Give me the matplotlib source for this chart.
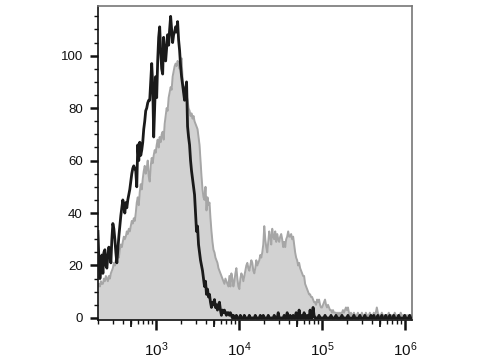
import numpy as np
import matplotlib
matplotlib.use("Agg")
import matplotlib.pyplot as plt
from matplotlib import ticker

plt.rcParams['font.family'] = ['Liberation Sans', 'DejaVu Sans']
plt.rcParams['mathtext.fontset'] = 'custom'
plt.rcParams['mathtext.rm'] = 'Liberation Sans'
plt.rcParams['mathtext.it'] = 'Liberation Sans:italic'
plt.rcParams['mathtext.bf'] = 'Liberation Sans:bold'

# histogram channel grid (log10 of fluorescence intensity)
log_start = 2.301
log_step = 0.012

# gray filled histogram (control)
gray_counts = [
    12, 13, 12, 14, 13, 13, 15, 14, 16, 15,
    14, 16, 15, 17, 18, 19, 21, 20, 22, 22,
    25, 23, 26, 28, 27, 29, 31, 30, 31, 33,
    32, 34, 33, 35, 37, 36, 38, 37, 40, 44,
    46, 43, 48, 51, 49, 53, 56, 58, 55, 57,
    60, 54, 52, 58, 61, 59, 62, 64, 63, 66,
    68, 65, 69, 67, 70, 71, 68, 74, 77, 80,
    79, 84, 86, 88, 87, 92, 94, 96, 97, 96,
    98, 97, 95, 98, 99, 91, 86, 88, 84, 85,
    83, 80, 79, 77, 78, 76, 77, 75, 74, 73,
    72, 69, 66, 60, 54, 49, 46, 45, 50, 41,
    46, 43, 44, 38, 33, 29, 26, 25, 23, 22,
    21, 19, 18, 17, 16, 15, 14, 13, 15, 14,
    13, 12, 16, 12, 17, 15, 12, 14, 17, 19,
    15, 12, 11, 15, 17, 16, 14, 16, 18, 20,
    21, 19, 18, 20, 22, 21, 18, 17, 19, 22,
    20, 21, 22, 24, 23, 25, 28, 35, 30, 27,
    25, 29, 33, 31, 28, 34, 31, 30, 33, 29,
    32, 30, 29, 31, 32, 30, 27, 29, 27, 30,
    31, 33, 31, 31, 32, 30, 31, 28, 25, 23,
    22, 20, 21, 19, 18, 17, 16, 16, 13, 12,
    11, 10, 9, 9, 8, 8, 7, 6, 6, 5,
    7, 6, 7, 5, 4, 4, 5, 6, 7, 5,
    4, 5, 4, 3, 3, 2, 3, 2, 2, 2,
    1, 2, 1, 2, 1, 2, 3, 2, 3, 4,
    3, 4, 2, 1, 2, 1, 1, 2, 1, 1,
    1, 2, 1, 1, 1, 2, 1, 1, 1, 2,
    1, 1, 1, 2, 1, 1, 1, 2, 1, 2,
    4, 2, 1, 1, 1, 2, 1, 1, 1, 1,
    1, 1, 2, 1, 1, 1, 1, 1, 2, 1,
    1, 1, 1, 1, 2, 1, 1, 1, 1, 1,
    1, 1, 1, 1, 1,
]

# black line histogram (stained sample)
black_counts = [
    33, 22, 15, 19, 24, 17, 25, 26, 20, 19,
    24, 27, 25, 21, 30, 36, 34, 30, 25, 21,
    26, 31, 35, 39, 42, 45, 43, 40, 44, 42,
    45, 47, 49, 52, 55, 57, 58, 57, 56, 50,
    66, 60, 67, 62, 64, 67, 72, 75, 79, 80,
    82, 83, 83, 90, 97, 89, 69, 80, 92, 84,
    98, 107, 111, 102, 95, 93, 107, 101, 98, 103,
    108, 104, 110, 115, 110, 105, 108, 109, 111, 109,
    113, 106, 102, 96, 92, 89, 86, 83, 87, 90,
    73, 69, 66, 60, 56, 53, 50, 47, 40, 33,
    35, 28, 25, 22, 20, 18, 15, 12, 14, 9,
    11, 8, 9, 6, 4, 6, 5, 7, 4, 5,
    3, 5, 6, 3, 1, 3, 2, 3, 2, 1,
    2, 2, 1, 2, 1,
    0, 1, 0, 0, 1, 0, 0, 0, 1, 0,
    0, 0, 1, 0, 0, 0, 0, 1, 0, 0,
    0, 0, 0, 1, 0, 0, 0, 0, 1, 0,
    0, 1, 0, 0, 0, 0, 1, 0, 0, 0,
    0, 0, 1, 0, 0, 0, 2, 0, 0, 0,
    0, 0, 1, 0, 0, 2, 0, 0, 1, 0,
    0, 1, 0, 0, 2, 0, 0, 3, 0, 0,
    1, 0, 2, 0, 0, 1, 0, 0, 3, 0,
    0, 4, 1, 0, 0, 0, 0, 1, 0, 0,
    0, 0, 0, 1, 0, 0, 0, 0, 0, 1,
    0, 0, 0, 0, 1, 0, 0, 0, 0, 0,
    1, 0, 0, 0, 0, 0, 1, 0, 0, 0,
    0, 0, 1, 0, 0, 0, 0, 0, 1, 0,
    0, 0, 0, 1, 0, 0, 0, 0, 0, 1,
    0, 0, 1, 0, 0, 0, 1, 0, 0, 0,
    1, 0, 0, 0, 1, 0, 0, 0, 1, 0,
    0, 0, 1, 0, 0, 0, 0, 1, 0, 0,
    0, 0, 0, 1, 0, 0, 0, 0, 1, 0,
]

y_ticks = [0, 20, 40, 60, 80, 100]
x_major = [1e3, 1e4, 1e5, 1e6]
x_half = [5e2, 5e3, 5e4, 5e5]
x_min, x_max = 200, 1.21e6
y_min, y_max = -0.8, 118.9

gx = 10 ** (log_start + log_step * np.arange(len(gray_counts)))
bx = 10 ** (log_start + log_step * np.arange(len(black_counts)))

fig = plt.figure(figsize=(4.8, 3.6), dpi=100)
ax = fig.add_axes([0.204, 0.111, 0.654, 0.872])

ax.fill_between(gx, gray_counts, y_min, color='#d2d2d2', linewidth=0, zorder=1)
ax.plot(gx, gray_counts, color='#a6a6a6', lw=1.4, zorder=2)
ax.plot(bx, black_counts, color='#1a1a1a', lw=2.0, zorder=3)

ax.set_xscale('log')
ax.set_xlim(x_min, x_max)
ax.set_ylim(y_min, y_max)

ax.set_xticks(x_major)
ax.xaxis.set_major_formatter(ticker.LogFormatterMathtext())
ax.xaxis.set_minor_locator(ticker.LogLocator(base=10, subs=np.arange(2, 10), numticks=20))
ax.xaxis.set_minor_formatter(ticker.NullFormatter())

ax.set_yticks(y_ticks)
ax.yaxis.set_minor_locator(ticker.MultipleLocator(5))

ax.tick_params(axis='both', which='major', direction='out', width=1.8,
               color='#111111', labelcolor='#111111')
ax.tick_params(axis='both', which='minor', direction='out', length=3, width=1.0,
               color='#111111')
ax.tick_params(axis='x', which='major', length=7.5, pad=7.5, labelsize=11)
ax.tick_params(axis='y', which='major', length=5.8, pad=5, labelsize=9.5)

# medium ticks at 5 x 10^n
sec = ax.secondary_xaxis('bottom')
sec.set_xticks(x_half)
sec.set_xticklabels([])
sec.tick_params(direction='out', length=5, width=1.3, color='#111111')
sec.spines['bottom'].set_visible(False)

for s in ['left', 'bottom']:
    ax.spines[s].set_color('#111111')
    ax.spines[s].set_linewidth(1.2)
for s in ['top', 'right']:
    ax.spines[s].set_color('#777777')
    ax.spines[s].set_linewidth(1.2)

fig.savefig('out.png', dpi=100)
